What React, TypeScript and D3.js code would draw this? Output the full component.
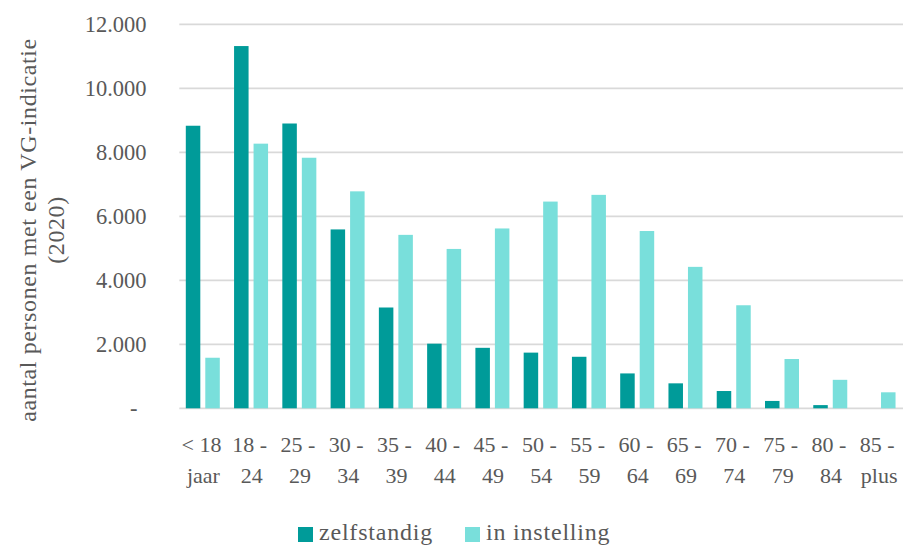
import React from "react";
import * as d3 from "d3";

const categories = [
  "< 18 jaar", "18 - 24", "25 - 29", "30 - 34", "35 - 39", "40 - 44", "45 - 49",
  "50 - 54", "55 - 59", "60 - 64", "65 - 69", "70 - 74", "75 - 79", "80 - 84", "85 - plus",
];
const seriesNames = ["zelfstandig", "in instelling"];
const zelfstandig = [8830, 11320, 8900, 5590, 3150, 2020, 1890, 1740, 1610, 1090, 780, 540, 230, 100, 0];
const inInstelling = [1580, 8270, 7830, 6780, 5420, 4980, 5620, 6460, 6670, 5540, 4420, 3220, 1540, 890, 500];
const yTicks = [0, 2000, 4000, 6000, 8000, 10000, 12000];
const titleLines = ["aantal personen met een VG-indicatie", "(2020)"];

const colors = ["#009B99", "#79DFDB"];
const FONT = "'Liberation Serif', 'Times New Roman', serif";
const TEXT = "#595959";

export default function App() {
  const left = 179.3, right = 903.3, top = 24.3, bottom = 408.3;
  const x0 = d3.scaleBand<string>().domain(categories).range([left, right]).paddingInner(0).paddingOuter(0);
  const x1 = d3.scaleBand<string>().domain(seriesNames).range([6.5, 40.5]).paddingInner(0.256).paddingOuter(0);
  const y = d3.scaleLinear().domain([0, 12000]).range([bottom, top]);
  const fmt = (v: number) => (v === 0 ? "-" : d3.format(",")(v).replace(/,/g, "."));
  const data = [zelfstandig, inInstelling];

  const splitLabel = (s: string) => {
    const i = s.lastIndexOf(" ");
    return [s.slice(0, i), s.slice(i + 1)];
  };

  return (
    <svg width={903} height={545} style={{ position: "absolute", left: 0, top: 0, background: "#fff" }}>
      {yTicks.map((t) => (
        <line key={"g" + t} x1={left} x2={right} y1={y(t)} y2={y(t)} stroke="#D9D9D9" strokeWidth={1.8} />
      ))}
      {yTicks.map((t) => (
        <text
          key={"t" + t}
          x={t === 0 ? 137.5 : 146.5}
          y={y(t) + 8}
          textAnchor="end"
          fontFamily={FONT}
          fontSize={22.5}
          fill={TEXT}
        >
          {fmt(t)}
        </text>
      ))}
      {data.map((vals, si) =>
        vals.map((v, ci) =>
          v > 0 ? (
            <rect
              key={`b${si}-${ci}`}
              x={(x0(categories[ci]) as number) + (x1(seriesNames[si]) as number)}
              y={y(v)}
              width={x1.bandwidth()}
              height={y(0) - y(v)}
              fill={colors[si]}
            />
          ) : null
        )
      )}
      {categories.map((c) => {
        const [l1, l2] = splitLabel(c);
        const cx = (x0(c) as number) + x0.bandwidth() / 2;
        return (
          <g key={"x" + c} fontFamily={FONT} fontSize={22} fill={TEXT} textAnchor="middle">
            <text x={cx - 2} y={452}>{l1}</text>
            <text x={cx} y={482.5}>{l2}</text>
          </g>
        );
      })}
      <g transform="translate(0,230) rotate(-90)" fontFamily={FONT} fontSize={24} fill={TEXT} textAnchor="middle" letterSpacing={0.6}>
        <text x={0} y={36}>{titleLines[0]}</text>
        <text x={0} y={64}>{titleLines[1]}</text>
      </g>
      {seriesNames.map((s, i) => {
        const lx = [298, 465][i];
        return (
          <g key={"l" + s}>
            <rect x={lx} y={527} width={15} height={15} fill={colors[i]} />
            <text x={lx + 21} y={540} fontFamily={FONT} fontSize={24} fill={TEXT} letterSpacing={0.8}>
              {s}
            </text>
          </g>
        );
      })}
    </svg>
  );
}
